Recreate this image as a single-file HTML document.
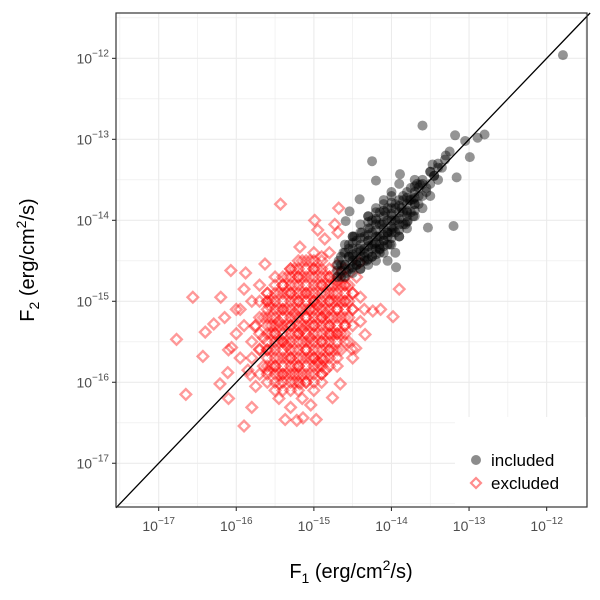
<!DOCTYPE html>
<html><head><meta charset="utf-8"><style>
body{margin:0;background:#fff;}
svg{display:block;font-family:"Liberation Sans",sans-serif;}
</style></head><body>
<svg id="chart" width="600" height="600">
<rect x="0" y="0" width="600" height="600" fill="#fff"/>
<g id="grid"></g>
<g id="pts"></g>
<g id="axes"></g>
</svg>
<script>
const xTicks = [-17,-16,-15,-14,-13,-12];
const yTicks = [-17,-16,-15,-14,-13,-12];
const excludedX = [-16.77,-16.65,-16.56,-16.43,-16.29,-16.10,-15.80,-15.90,-15.43,-14.99,-14.68,-14.69,-14.41,-13.90,-13.98,-14.14,-14.24,-14.46,-14.66,-14.76,-15.14,-15.04,-15.30,-15.37,-15.22,-14.97,-15.82,-15.59,-16.07,-15.88,-15.63,-15.18,-14.95,-16.20,-16.40,-16.11,-16.06,-15.76,-15.57,-14.86,-14.73,-14.79,-14.34,-14.51,-14.88,-15.18,-15.44,-15.70,-15.95,-16.21,
-15.8,-15.7,-15.6,-15.6,-15.5,-15.5,-15.4,-15.4,-15.4,-15.3,-15.3,-15.3,-15.2,-15.2,-15.2,-15.2,-15.1,-15.1,-15.1,-15.1,-15.0,-15.0,-15.0,-15.0,-14.9,-14.9,-14.9,-14.9,-14.8,-14.8,-14.8,-14.8,-14.7,-14.7,-14.7,-14.6,-14.6,-14.6,-14.5,-14.5,-14.4,-15.7,-15.6,-15.5,-15.4,-15.3,-15.0,-14.9,-14.7,-15.9,-15.8,-15.7,-15.6,-15.5,-15.3,-15.1,-14.9,-14.8,-15.95,-16.0,-16.0,-15.85,-14.65,-14.55,-14.4,-14.35,-14.45,-15.25,-15.15,-15.05,-14.95,-15.35,-15.45,-15.55,-15.05,-14.85,-14.75,-15.65,-15.25,-14.95,-14.65,-14.7,-14.6,-16.1,-16.15,-15.9,-15.75,-15.45,-15.15,-14.85,-14.5];
const excludedY = [-15.47,-16.15,-14.95,-15.68,-15.28,-16.20,-16.31,-16.54,-13.80,-14.00,-13.85,-14.15,-14.52,-14.85,-15.19,-15.10,-15.12,-15.58,-16.02,-16.19,-16.44,-16.28,-16.31,-16.46,-16.47,-16.46,-15.91,-15.86,-14.62,-14.65,-14.54,-14.33,-14.12,-14.95,-15.38,-15.88,-15.57,-15.31,-15.06,-14.23,-14.05,-15.41,-15.41,-15.59,-15.72,-16.02,-16.02,-15.59,-15.10,-16.02,
-15.5,-15.2,-15.6,-15.0,-15.4,-15.8,-15.1,-15.5,-14.8,-15.3,-15.7,-14.9,-15.0,-15.4,-15.8,-14.7,-15.2,-15.6,-14.9,-16.0,-15.0,-15.3,-15.7,-14.6,-14.8,-15.2,-15.5,-15.9,-14.7,-15.0,-15.3,-15.6,-14.75,-15.1,-15.4,-14.8,-15.0,-15.3,-14.9,-15.1,-14.95,-15.9,-16.0,-16.1,-15.9,-16.1,-16.1,-16.0,-15.8,-15.3,-15.0,-14.8,-14.9,-14.7,-14.6,-14.5,-14.45,-14.4,-15.7,-15.4,-15.1,-15.85,-15.6,-15.5,-15.25,-15.1,-14.7,-15.15,-15.35,-15.1,-15.05,-15.55,-15.25,-15.3,-15.45,-15.15,-14.9,-15.45,-15.9,-15.75,-14.65,-14.55,-14.6,-15.6,-15.2,-14.85,-16.05,-16.2,-16.2,-15.85,-15.7];
const excludedCore = [
[-15.6,-15.9],[-15.6,-15.7],[-15.6,-15.5],[-15.6,-15.3],[-15.6,-15.1],[-15.6,-14.9],
[-15.5,-16.0],[-15.5,-15.8],[-15.5,-15.6],[-15.5,-15.4],[-15.5,-15.2],[-15.5,-15.0],[-15.5,-14.8],
[-15.4,-16.1],[-15.4,-15.9],[-15.4,-15.7],[-15.4,-15.5],[-15.4,-15.3],[-15.4,-15.1],[-15.4,-14.9],[-15.4,-14.7],
[-15.3,-16.0],[-15.3,-15.8],[-15.3,-15.6],[-15.3,-15.4],[-15.3,-15.2],[-15.3,-15.0],[-15.3,-14.8],[-15.3,-14.6],
[-15.2,-16.1],[-15.2,-15.9],[-15.2,-15.7],[-15.2,-15.5],[-15.2,-15.3],[-15.2,-15.1],[-15.2,-14.9],[-15.2,-14.7],[-15.2,-14.5],
[-15.1,-16.0],[-15.1,-15.8],[-15.1,-15.6],[-15.1,-15.4],[-15.1,-15.2],[-15.1,-15.0],[-15.1,-14.8],[-15.1,-14.6],
[-15.0,-16.0],[-15.0,-15.8],[-15.0,-15.6],[-15.0,-15.4],[-15.0,-15.2],[-15.0,-15.0],[-15.0,-14.8],[-15.0,-14.6],[-15.0,-14.4],
[-14.9,-15.9],[-14.9,-15.7],[-14.9,-15.5],[-14.9,-15.3],[-14.9,-15.1],[-14.9,-14.9],[-14.9,-14.7],[-14.9,-14.5],
[-14.8,-15.8],[-14.8,-15.6],[-14.8,-15.4],[-14.8,-15.2],[-14.8,-15.0],[-14.8,-14.8],[-14.8,-14.6],
[-14.7,-15.7],[-14.7,-15.5],[-14.7,-15.3],[-14.7,-15.1],[-14.7,-14.9],[-14.7,-14.7],
[-14.6,-15.5],[-14.6,-15.3],[-14.6,-15.1],[-14.6,-14.9],[-14.6,-14.7],
[-14.5,-15.3],[-14.5,-15.1],[-14.5,-14.9],
[-15.55,-15.8],[-15.55,-15.6],[-15.55,-15.4],[-15.55,-15.2],[-15.55,-15.0],
[-15.45,-15.9],[-15.45,-15.7],[-15.45,-15.5],[-15.45,-15.3],[-15.45,-15.1],[-15.45,-14.9],
[-15.35,-15.9],[-15.35,-15.7],[-15.35,-15.5],[-15.35,-15.3],[-15.35,-15.1],[-15.35,-14.9],[-15.35,-14.7],
[-15.25,-16.0],[-15.25,-15.8],[-15.25,-15.6],[-15.25,-15.4],[-15.25,-15.2],[-15.25,-15.0],[-15.25,-14.8],[-15.25,-14.6],
[-15.15,-15.9],[-15.15,-15.7],[-15.15,-15.5],[-15.15,-15.3],[-15.15,-15.1],[-15.15,-14.9],[-15.15,-14.7],[-15.15,-14.5],
[-15.05,-15.9],[-15.05,-15.7],[-15.05,-15.5],[-15.05,-15.3],[-15.05,-15.1],[-15.05,-14.9],[-15.05,-14.7],[-15.05,-14.5],
[-14.95,-15.8],[-14.95,-15.6],[-14.95,-15.4],[-14.95,-15.2],[-14.95,-15.0],[-14.95,-14.8],[-14.95,-14.6],
[-14.85,-15.7],[-14.85,-15.5],[-14.85,-15.3],[-14.85,-15.1],[-14.85,-14.9],[-14.85,-14.7],
[-14.75,-15.6],[-14.75,-15.4],[-14.75,-15.2],[-14.75,-15.0],[-14.75,-14.8],
[-14.65,-15.4],[-14.65,-15.2],[-14.65,-15.0],[-14.65,-14.8],
[-14.55,-15.2],[-14.55,-15.0],[-14.55,-14.8],
[-15.7,-15.6],[-15.7,-15.4],[-15.7,-15.0],[-15.65,-15.8],[-15.65,-15.2],[-15.75,-15.3],[-15.8,-15.7],
[-15.6,-15.8],[-15.6,-15.6],[-15.6,-15.4],[-15.6,-15.2],[-15.6,-15.0],
[-15.5,-15.9],[-15.5,-15.7],[-15.5,-15.5],[-15.5,-15.3],[-15.5,-15.1],[-15.5,-14.9],
[-15.4,-16.0],[-15.4,-15.8],[-15.4,-15.6],[-15.4,-15.4],[-15.4,-15.2],[-15.4,-15.0],[-15.4,-14.8],
[-15.3,-15.9],[-15.3,-15.7],[-15.3,-15.5],[-15.3,-15.3],[-15.3,-15.1],[-15.3,-14.9],[-15.3,-14.7],
[-15.2,-16.0],[-15.2,-15.8],[-15.2,-15.6],[-15.2,-15.4],[-15.2,-15.2],[-15.2,-15.0],[-15.2,-14.8],[-15.2,-14.6],
[-15.1,-15.9],[-15.1,-15.7],[-15.1,-15.5],[-15.1,-15.3],[-15.1,-15.1],[-15.1,-14.9],[-15.1,-14.7],
[-15.0,-15.9],[-15.0,-15.7],[-15.0,-15.5],[-15.0,-15.3],[-15.0,-15.1],[-15.0,-14.9],[-15.0,-14.7],[-15.0,-14.5],
[-14.9,-15.8],[-14.9,-15.6],[-14.9,-15.4],[-14.9,-15.2],[-14.9,-15.0],[-14.9,-14.8],[-14.9,-14.6],
[-14.8,-15.7],[-14.8,-15.5],[-14.8,-15.3],[-14.8,-15.1],[-14.8,-14.9],[-14.8,-14.7],
[-14.7,-15.6],[-14.7,-15.4],[-14.7,-15.2],[-14.7,-15.0],[-14.7,-14.8],
[-14.6,-15.4],[-14.6,-15.2],[-14.6,-15.0],[-14.6,-14.8]];
const includedX = [-11.79,-13.60,-14.25,-14.20,-13.18,-13.05,-12.89,-12.99,-13.16,-13.47,-13.31,-13.53,-13.20,-12.80,-13.94,-13.79,-14.54,-14.59,-14.41,-13.99,-14.15,-13.72,-13.63,-13.89,
-14.7,-14.68,-14.65,-14.62,-14.6,-14.58,-14.55,-14.52,-14.5,-14.48,-14.45,-14.42,-14.4,-14.38,-14.35,-14.32,-14.3,-14.28,-14.25,-14.22,-14.2,-14.18,-14.15,-14.12,-14.1,-14.08,-14.05,-14.02,-14.0,-13.97,-13.95,-13.92,-13.9,-13.87,-13.85,-13.82,-13.8,-13.77,-13.75,-13.72,-13.7,-13.67,-13.65,-13.6,-13.55,-13.5,-13.45,-13.4,-13.35,-13.3,-13.25,-14.5,-14.4,-14.3,-14.2,-14.1,-14.0,-13.9,-14.45,-14.35,-14.25,-14.15,-14.05,-14.6,-14.55,-14.05,-13.95];
const includedY = [-11.96,-12.83,-13.27,-13.51,-12.95,-13.02,-12.98,-13.22,-13.47,-13.31,-13.25,-14.09,-14.07,-12.94,-14.58,-14.01,-13.89,-14.01,-13.74,-14.11,-14.36,-13.74,-13.56,-13.43,
-14.62,-14.5,-14.7,-14.4,-14.55,-14.65,-14.3,-14.6,-14.45,-14.2,-14.55,-14.35,-14.6,-14.15,-14.4,-14.5,-14.25,-14.1,-14.45,-14.3,-14.0,-14.2,-14.4,-14.05,-14.25,-13.9,-14.15,-14.3,-13.95,-14.1,-13.8,-14.0,-14.2,-13.85,-13.7,-14.05,-13.9,-13.75,-13.6,-13.95,-13.8,-13.55,-13.7,-13.5,-13.6,-13.4,-13.45,-13.3,-13.35,-13.2,-13.15,-14.2,-14.05,-13.95,-13.85,-13.75,-13.65,-13.55,-14.5,-14.45,-14.35,-14.3,-14.2,-14.3,-14.45,-14.5,-14.4];
const includedCore = [
[-14.7,-14.7],[-14.7,-14.55],[-14.6,-14.7],[-14.6,-14.55],[-14.6,-14.4],
[-14.5,-14.65],[-14.5,-14.5],[-14.5,-14.35],[-14.5,-14.2],
[-14.4,-14.6],[-14.4,-14.45],[-14.4,-14.3],[-14.4,-14.15],
[-14.3,-14.55],[-14.3,-14.4],[-14.3,-14.25],[-14.3,-14.1],[-14.3,-13.95],
[-14.2,-14.5],[-14.2,-14.35],[-14.2,-14.2],[-14.2,-14.05],[-14.2,-13.9],
[-14.1,-14.4],[-14.1,-14.25],[-14.1,-14.1],[-14.1,-13.95],[-14.1,-13.8],
[-14.0,-14.3],[-14.0,-14.15],[-14.0,-14.0],[-14.0,-13.85],[-14.0,-13.7],
[-13.9,-14.2],[-13.9,-14.05],[-13.9,-13.9],[-13.9,-13.75],
[-13.8,-14.1],[-13.8,-13.95],[-13.8,-13.8],[-13.8,-13.65],
[-13.7,-13.95],[-13.7,-13.8],[-13.7,-13.65],[-13.7,-13.5],
[-13.6,-13.85],[-13.6,-13.7],[-13.6,-13.55],
[-13.5,-13.7],[-13.5,-13.55],[-13.5,-13.4],[-13.4,-13.5],[-13.4,-13.35],
[-14.65,-14.62],[-14.55,-14.6],[-14.55,-14.45],[-14.45,-14.55],[-14.45,-14.4],[-14.45,-14.25],
[-14.35,-14.5],[-14.35,-14.35],[-14.35,-14.2],[-14.25,-14.45],[-14.25,-14.3],[-14.25,-14.15],[-14.25,-14.0],
[-14.15,-14.35],[-14.15,-14.2],[-14.15,-14.05],[-14.15,-13.9],[-14.05,-14.3],[-14.05,-14.15],[-14.05,-14.0],[-14.05,-13.85],
[-13.95,-14.15],[-13.95,-14.0],[-13.95,-13.85],[-13.85,-14.05],[-13.85,-13.9],[-13.85,-13.75],
[-13.75,-13.9],[-13.75,-13.75],[-13.65,-13.8],[-13.65,-13.6],[-13.55,-13.65],[-13.45,-13.45],
[-14.65,-14.55],[-14.65,-14.45],[-14.55,-14.35],[-14.5,-14.58],[-14.5,-14.42],[-14.5,-14.28],
[-14.4,-14.52],[-14.4,-14.38],[-14.4,-14.22],[-14.3,-14.48],[-14.3,-14.32],[-14.3,-14.18],[-14.3,-14.02],
[-14.2,-14.42],[-14.2,-14.28],[-14.2,-14.12],[-14.2,-13.98],[-14.1,-14.32],[-14.1,-14.18],[-14.1,-14.02],[-14.1,-13.88],
[-14.0,-14.22],[-14.0,-14.08],[-14.0,-13.92],[-14.0,-13.78],[-13.9,-14.12],[-13.9,-13.98],[-13.9,-13.82],
[-13.8,-14.02],[-13.8,-13.88],[-13.8,-13.72],[-13.7,-13.88],[-13.7,-13.72],[-13.7,-13.58]];

const L=116,R=587,T=13,B=507;
const x0=-17.55,x1=-11.48,y0=-17.54,y1=-11.44;
const sx=v=>L+(v-x0)/(x1-x0)*(R-L);
const sy=v=>B-(v-y0)/(y1-y0)*(B-T);
const NS="http://www.w3.org/2000/svg";
function mk(tag,attrs,parent){const e=document.createElementNS(NS,tag);for(const k in attrs)e.setAttribute(k,attrs[k]);parent.appendChild(e);return e;}
const grid=document.getElementById('grid'),pts=document.getElementById('pts'),axes=document.getElementById('axes');
for(let v=-17.5;v<=-11.5;v+=0.5){
  const major=Number.isInteger(v);
  const gx=mk('line',{x1:sx(v),x2:sx(v),y1:T,y2:B,stroke:'#ebebeb','stroke-width':major?1.1:0.6},grid);
  
  
  const gy=mk('line',{x1:L,x2:R,y1:sy(v),y2:sy(v),stroke:'#ebebeb','stroke-width':major?1.1:0.6},grid);
  
  
}
function diamond(lx,ly){
  const cx=sx(lx),cy=sy(ly),d=5.3;
  const p=mk('polygon',{points:`${cx},${cy-d} ${cx+d},${cy} ${cx},${cy+d} ${cx-d},${cy}`,fill:'none',stroke:'#ff0000','stroke-opacity':0.4,'stroke-width':2.4},pts);
  
  
}
function dot(lx,ly){
  const c=mk('circle',{cx:sx(lx),cy:sy(ly),r:5,fill:'#000','fill-opacity':0.42},pts);
  
  
}
for(let i=0;i<excludedX.length;i++) diamond(excludedX[i],excludedY[i]);
excludedCore.forEach(p=>diamond(p[0],p[1]));
for(let i=0;i<includedX.length;i++) dot(includedX[i],includedY[i]);
includedCore.forEach(p=>dot(p[0],p[1]));
const dl=mk('line',{x1:sx(-17.55),y1:sy(-17.55),x2:sx(-11.44),y2:sy(-11.44),stroke:'#000','stroke-width':1.3},axes);


const lg=mk('g',{},axes);


mk('rect',{x:455,y:417,width:131,height:89,fill:'#fff'},lg);
const lc=mk('circle',{cx:476,cy:460,r:5,fill:'#000','fill-opacity':0.45},lg);


const ld=mk('polygon',{points:'476,478 481,483 476,488 471,483',fill:'none',stroke:'#ff0000','stroke-opacity':0.45,'stroke-width':2.2},lg);


const lt1=mk('text',{x:491,y:466,'font-size':17,fill:'#000'},lg);lt1.textContent='included';


const lt2=mk('text',{x:491,y:489,'font-size':17,fill:'#000'},lg);lt2.textContent='excluded';


const fr=mk('rect',{x:L,y:T,width:R-L,height:B-T,fill:'none',stroke:'#333','stroke-width':1.2},axes);


xTicks.forEach(v=>{
  const x=sx(v);
  mk('line',{x1:x,x2:x,y1:B,y2:B+4,stroke:'#333','stroke-width':1.1},axes);
  const t=mk('text',{x:x,y:531,'font-size':14,fill:'#4d4d4d','text-anchor':'middle'},axes);
  t.innerHTML='10<tspan dy="-7" font-size="10">'+String(v).replace('-','\u2212')+'</tspan>';
  
  
});
yTicks.forEach(v=>{
  const y=sy(v);
  mk('line',{x1:L-4,x2:L,y1:y,y2:y,stroke:'#333','stroke-width':1.1},axes);
  const t=mk('text',{x:109,y:y+5,'font-size':14,fill:'#4d4d4d','text-anchor':'end'},axes);
  t.innerHTML='10<tspan dy="-7" font-size="10">'+String(v).replace('-','\u2212')+'</tspan>';
  
  
});
const xt=mk('text',{x:351,y:578,'font-size':20,fill:'#000','text-anchor':'middle'},axes);
xt.innerHTML='F<tspan dy="5" font-size="14">1</tspan><tspan dy="-5"> (erg/cm</tspan><tspan dy="-8" font-size="14">2</tspan><tspan dy="8">/s)</tspan>';


const yt=mk('text',{x:0,y:0,'font-size':20,fill:'#000','text-anchor':'middle',transform:'translate(34,260) rotate(-90)'},axes);
yt.innerHTML='F<tspan dy="5" font-size="14">2</tspan><tspan dy="-5"> (erg/cm</tspan><tspan dy="-8" font-size="14">2</tspan><tspan dy="8">/s)</tspan>';


</script>
</body></html>
